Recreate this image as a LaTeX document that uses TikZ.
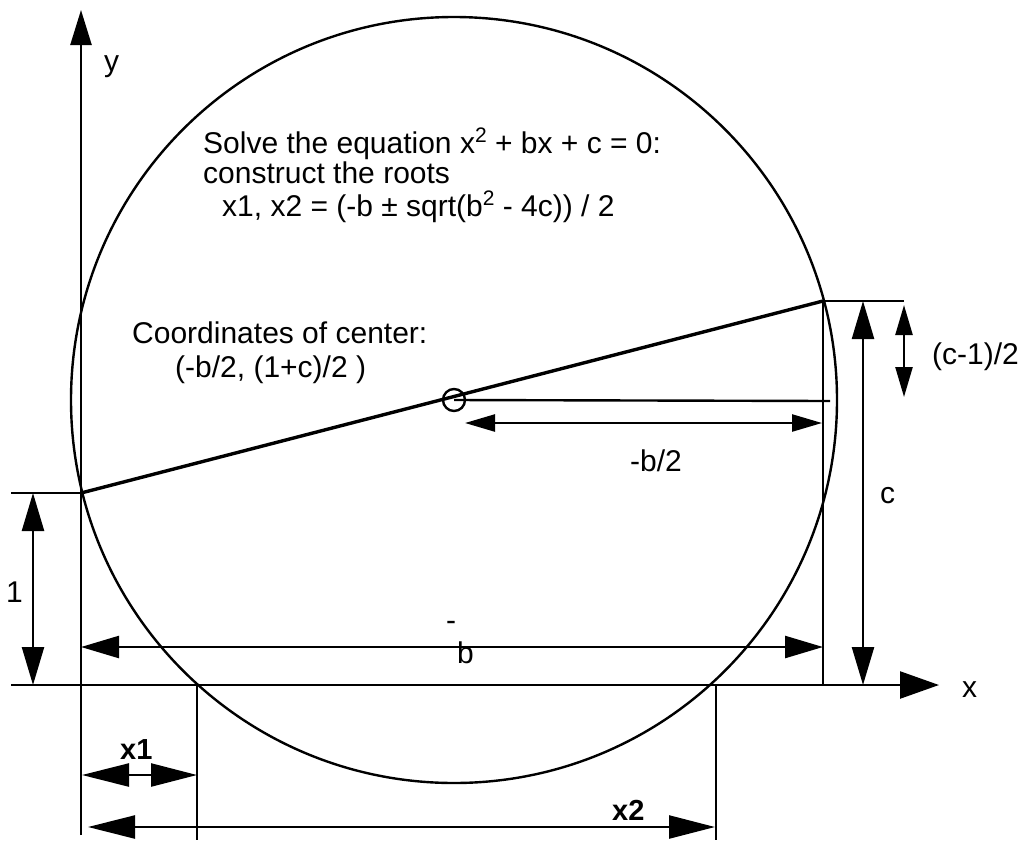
\documentclass[tikz,border=0pt]{standalone}
\usepackage{fontspec}
\setmainfont{Liberation Sans}
\usetikzlibrary{arrows.meta}
\newcommand\supnum[1]{\raisebox{11pt}{\fontsize{21}{21}\selectfont #1}}
\begin{document}
\begin{tikzpicture}[x=1pt,y=-1pt,
  ln/.style={line width=2.4pt},
  thick line/.style={line width=3.4pt},
  txt/.style={font=\fontsize{30}{32}\selectfont, inner sep=0pt, anchor=base west},
  btxt/.style={font=\fontsize{29}{32}\selectfont\bfseries, inner sep=0pt, anchor=base west},
  dimbig/.style={line width=2.4pt, arrows={Triangle[length=38pt,width=22pt]-Triangle[length=38pt,width=22pt]}},
  dimlong/.style={line width=2.4pt, arrows={Triangle[length=47pt,width=23pt]-Triangle[length=46pt,width=23pt]}},
  dimsmall/.style={line width=2.4pt, arrows={Triangle[length=30pt,width=17pt]-Triangle[length=30pt,width=17pt]}},
  xaxis/.style={line width=2.4pt, arrows={-Triangle[length=39pt,width=27pt]}},
  yaxis/.style={line width=2.4pt, arrows={-Triangle[length=35pt,width=21pt]}}
]
\useasboundingbox (0,0) rectangle (1027,841);
% key points
\coordinate (O) at (81,685);
\coordinate (ytop) at (81,10);
\coordinate (ybot) at (81,835);
\coordinate (xl) at (11,685);
\coordinate (xr) at (939,685);
\coordinate (P1) at (81,493);
\coordinate (P1l) at (11,493);
\coordinate (Pc) at (823,301);
\coordinate (Pcr) at (904,301);
\coordinate (Pcb) at (823,685);
\coordinate (C) at (454,400);
\coordinate (Cr) at (830,401);
\coordinate (X1) at (197,685);
\coordinate (X1b) at (197,840);
\coordinate (X2) at (716,685);
\coordinate (X2b) at (716,840);
% dimension ends
\coordinate (d1a) at (33,493);
\coordinate (d1b) at (33,685);
\coordinate (dca) at (863,301);
\coordinate (dcb) at (863,685);
\coordinate (dba) at (81,647);
\coordinate (dbb) at (823,647);
\coordinate (dha) at (465,423);
\coordinate (dhb) at (822,423);
\coordinate (dqa) at (904,305);
\coordinate (dqb) at (904,397);
\coordinate (dx1a) at (82,775);
\coordinate (dx1b) at (197,775);
\coordinate (dx2a) at (88,827);
\coordinate (dx2b) at (715,827);

% axes
\draw[yaxis] (ybot) -- (ytop);
\draw[xaxis] (xl) -- (xr);
% circle
\draw[ln] (C) circle[radius=383pt];
% diameter line
\draw[thick line] (P1) -- (Pc);
% centre marker
\node[draw, circle, ln, minimum size=22pt, inner sep=0pt] (cc) at (C) {};
\draw[ln] (cc.center) -- (Cr);
% extension lines
\draw[ln] (P1l) -- (P1);
\draw[ln] (Pc) -- (Pcr);
\draw[ln] (Pc) -- (Pcb);
\draw[ln] (X1) -- (X1b);
\draw[ln] (X2) -- (X2b);
% dimensions
\draw[dimbig] (d1a) -- (d1b);
\draw[dimbig] (dca) -- (dcb);
\draw[dimbig] (dba) -- (dbb);
\draw[dimsmall] (dha) -- (dhb);
\draw[dimsmall] (dqa) -- (dqb);
\draw[dimlong] (dx1a) -- (dx1b);
\draw[dimlong] (dx2a) -- (dx2b);

% texts
\node[txt] (t1) at (203,153) {Solve the equation x\supnum{2} + bx + c = 0:};
\node[txt] (t2) at (203,183) {construct the roots};
\node[txt] (t3) at (222,216) {x1, x2 = (-b ± sqrt(b\supnum{2} - 4c)) / 2};
\node[txt] (t4) at (132,343) {Coordinates of center:};
\node[txt] (t5) at (175,377) {(-b/2, (1+c)/2 )};
\node[txt] (lhalf) at (630,471) {-b/2};
\node[txt] (lc) at (880,503) {c};
\node[txt] (lq) at (932,364) {(c-1)/2};
\node[txt] (lone) at (6,602) {1};
\node[txt] (lx) at (962,697) {x};
\node[txt] (ly) at (104,71) {y};
\node[txt] (lminus) at (446,630) {-};
\node[txt] (lb) at (457,663) {b};
\node[btxt] (lx1) at (120,759) {x1};
\node[btxt] (lx2) at (612,820) {x2};
\end{tikzpicture}
\end{document}
